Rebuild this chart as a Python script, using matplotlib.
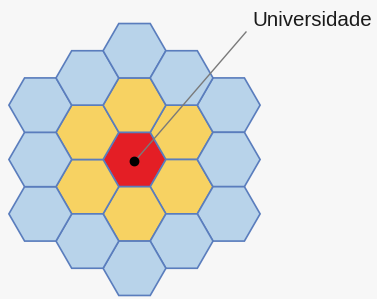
import numpy as np
import matplotlib.pyplot as plt
from matplotlib.patches import RegularPolygon, Circle

# -----------------------------
# Hexagon grid (axial coords q, r) and ring colours
# -----------------------------
cells_q = [0, 1, 1, 0, -1, -1, 0, 2, 2, 2, 1, 0, -1, -2, -2, -2, -1, 0, 1]
cells_r = [0, -1, 0, 1, 1, 0, -1, -2, -1, 0, 1, 2, 2, 2, 1, 0, -1, -2, -2]
ring_colors = ["#E41E25", "#F7D262", "#B8D3EA"]
label = "Universidade"
label_target = (0, 0)   # hexagon the label points at

R = 31.4
cx, cy = 134.5, 159.5

fig = plt.figure(figsize=(3.77, 2.99), dpi=100)
fig.patch.set_facecolor("#F7F7F7")
ax = fig.add_axes([0, 0, 1, 1])
ax.set_xlim(0, 377)
ax.set_ylim(299, 0)
ax.set_aspect("equal")
ax.axis("off")

for q, r in zip(cells_q, cells_r):
    ring = max(abs(q), abs(r), abs(q + r))
    x = cx + 1.5 * R * q
    y = cy + np.sqrt(3) * R * (r + q / 2)
    hexagon = RegularPolygon((x, y), numVertices=6, radius=R,
                             orientation=np.pi / 6,
                             facecolor=ring_colors[ring],
                             edgecolor="#5A7DBD", linewidth=1.2)
    ax.add_patch(hexagon)

# pointer to the centre cell
tq, tr = label_target
dx = cx + 1.5 * R * tq
dy = cy + np.sqrt(3) * R * (tr + tq / 2) + 2
ax.plot([dx, 246], [dy, 32], color="#7A7A7A", lw=1.0)
ax.add_patch(Circle((dx, dy), 4.2, color="black", zorder=5))

ax.text(252, 21, label, fontsize=14.8, family="Liberation Sans",
        color="#1A1A1A", va="center", ha="left")

plt.savefig("out.png", dpi=100, facecolor=fig.get_facecolor())
